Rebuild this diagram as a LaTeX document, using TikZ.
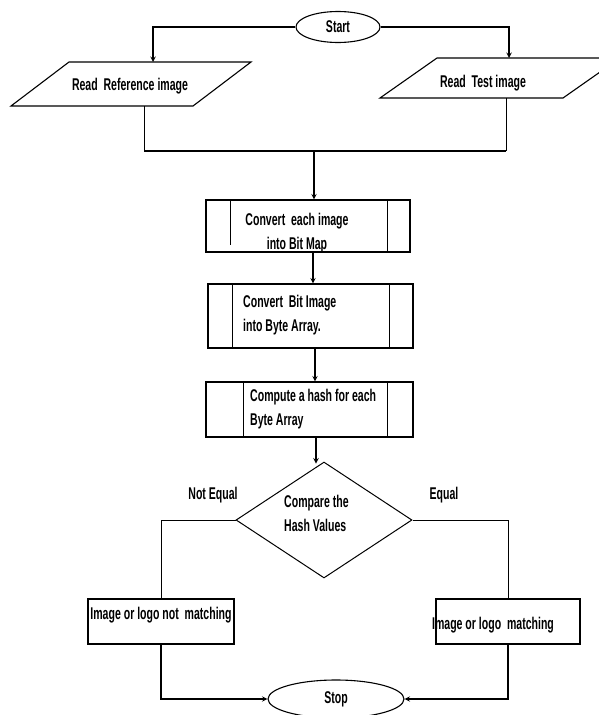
\documentclass[tikz,border=0pt]{standalone}
\usepackage{fontspec}
\setmainfont{Liberation Sans}[FakeStretch=0.62]
\usetikzlibrary{shapes.geometric}

\begin{document}
\begin{tikzpicture}[x=1pt, y=-1pt, font=\fontsize{17}{24}\selectfont\bfseries,
		arr/.style={->, >=stealth, line width=1.4pt},
		link/.style={line width=0.9pt},
		box/.style={draw, rectangle, line width=1.1pt, inner sep=0pt},
		txt/.style={inner sep=0pt, align=left}]
				\useasboundingbox (0,0) rectangle (598,715);
				% start and the two inputs
				\node[draw, ellipse, line width=1.1pt, minimum width=84, minimum height=31, inner sep=0pt] (S)at(338, 27) {Start};
				\draw[line width=1.1pt] (11,106) -- (69,62) -- (251,62) -- (193,106) -- cycle;
				\draw[line width=1.1pt] (380,98) -- (437,58) -- (620,58) -- (563,98) -- cycle;
				\node[txt] (RR)at(130, 86) {Read\ \ Reference image};
				\node[txt] (RT)at(483, 83) {Read\ \ Test image};
				\coordinate (RRt)at(153, 62);
				\coordinate (RTt)at(509, 58);
				\coordinate (RRb)at(144, 106);
				\coordinate (RTb)at(506, 98);
				\coordinate (J)at(314, 151);
				\draw[arr] (S.west) -| (RRt);
				\draw[arr] (S.east) -| (RTt);
				% processing boxes
				\node[box, minimum width=204, minimum height=52] (C1)at(308, 226) {};
				\node[box, minimum width=205, minimum height=64] (C2)at(310.5, 316) {};
				\node[box, minimum width=207, minimum height=55] (C3)at(309.5, 409.5) {};
				\draw[link] ([xshift=25]C1.north west) -- ++(0,46) ([xshift=-23]C1.north east) -- ([xshift=-23]C1.south east);
				\draw[link] ([xshift=25]C2.north west) -- ([xshift=25]C2.south west) ([xshift=-24]C2.north east) -- ([xshift=-24]C2.south east);
				\draw[link] ([xshift=38]C3.north west) -- ([xshift=38]C3.south west) ([xshift=-26]C3.north east) -- ([xshift=-26]C3.south east);
				\node[txt, align=center] (C1t)at(297, 233) {Convert\ \ each image\\into Bit Map};
				\node[txt, anchor=west] (C2t)at(243, 315) {Convert\ \ Bit Image\\into Byte Array.};
				\node[txt, anchor=west] (C3t)at(250, 409) {Compute a hash for each\\Byte Array};
				\draw[link] (RRb) -- (RRb |- J);
				\draw[link] (RTb) -- (RTb |- J);
				\draw[line width=1.4pt] (RRb |- J) -- (RTb |- J);
				\draw[arr] (J) -- (J |- C1.north);
				\draw[arr] ([xshift=5]C1.south) -- ([xshift=5]C1.south |- C2.north);
				\draw[arr] ([xshift=4.5]C2.south) -- ([xshift=4.5]C2.south |- C3.north);
				% decision
				\node[draw, diamond, line width=1pt, minimum width=176, minimum height=116, inner sep=0pt] (H)at(324, 520) {};
				\node[txt, anchor=west] (Ht)at(284, 513) {Compare the\\Hash Values};
				\draw[arr] ([xshift=6.5]C3.south) -- ++(0,26);
				\node[txt] (NE)at(213, 495) {Not Equal};
				\node[txt] (EQ)at(444, 495) {Equal};
				% results and stop
				\node[box, minimum width=146, minimum height=45] (NM)at(161, 621.5) {};
				\node[box, minimum width=144, minimum height=45] (M)at(508, 621.5) {};
				\node[txt] (NMt)at(161, 615) {Image or logo not\ \ matching};
				\node[txt] (Mt)at(493, 625) {Image or logo\ \ matching};
				\node[draw, ellipse, line width=1.1pt, minimum width=136, minimum height=38, inner sep=0pt] (E)at(336, 699) {Stop};
				\draw[link] (H.west) -| (NM.north);
				\draw[link] (H.east) -| (M.north);
				\draw[arr] (NM.south) |- (E.west);
				\draw[arr] (M.south) |- (E.east);
			\end{tikzpicture}
\end{document}
